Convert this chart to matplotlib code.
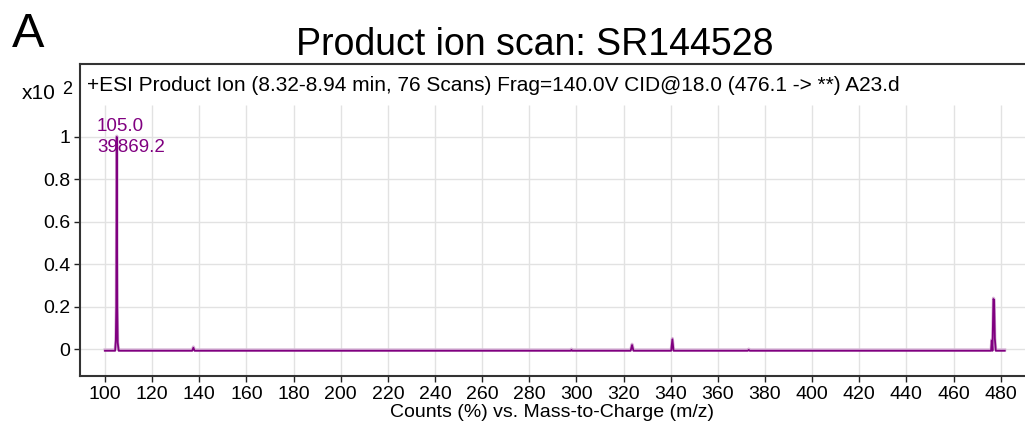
import matplotlib
matplotlib.use("Agg")
import matplotlib.pyplot as plt
import numpy as np

plt.rcParams['font.family'] = ['Liberation Sans', 'DejaVu Sans']

# spectrum points (m/z, counts in x10^2 %)
mz = [100.0, 104.3, 104.6, 104.8, 105.0, 105.2, 105.4, 105.8, 106.2,
      137.0, 137.5, 138.0, 297.6, 297.9, 298.2,
      323.0, 323.6, 324.2, 340.2, 340.7, 341.2,
      372.7, 373.1, 373.5,
      475.9, 476.2, 476.5, 476.9, 477.2, 477.5, 477.9, 481.7]
counts = [-0.008, -0.008, 0.04, 0.2, 1.0, 0.2, 0.03, -0.008, -0.008,
          -0.008, 0.006, -0.008, -0.008, -0.004, -0.008,
          -0.008, 0.019, -0.008, -0.008, 0.046, -0.008,
          -0.008, -0.004, -0.008,
          -0.008, 0.04, -0.008, 0.236, 0.23, 0.05, -0.008, -0.008]

base_mz = 105.0
base_abund = 39869.2

xticks = list(range(100, 481, 20))
yticks = [0, 0.2, 0.4, 0.6, 0.8, 1.0]
ylabels = ['0', '0.2', '0.4', '0.6', '0.8', '1']

header = "+ESI Product Ion (8.32-8.94 min, 76 Scans) Frag=140.0V CID@18.0 (476.1 -> **) A23.d"
title = "Product ion scan: SR144528"

purple = '#800080'

fig = plt.figure(figsize=(10.25, 4.26), dpi=100)
ax = fig.add_axes([80 / 1025, 50 / 426, 945 / 1025, 312 / 426])

ymin, ymax = -0.127, 1.344
grid_top = 1.151
ax.set_xlim(89.4, 490.3)
ax.set_ylim(ymin, ymax)

# grid (stops below the header band)
ax.vlines(xticks, ymin, grid_top, color='#e2e2e2', lw=1, zorder=0)
ax.hlines(yticks, 89.4, 490.3, color='#e2e2e2', lw=1, zorder=0)

# light trace under the main one
ax.plot(mz, np.array(counts) + 0.004, color='#d6b3d6', lw=2.2, zorder=1)
ax.plot(mz, counts, color=purple, lw=1.3, zorder=2)

ax.text(96.6, 1.028, f"{base_mz:.1f}", color=purple, fontsize=13.5, va='baseline')
ax.text(96.6, 0.929, f"{base_abund:.1f}", color=purple, fontsize=13.5, va='baseline')

ax.set_xticks(xticks)
ax.set_xticklabels([str(t) for t in xticks])
ax.set_yticks(yticks)
ax.set_yticklabels(ylabels)
ax.tick_params(labelsize=14, length=4, width=1, color='#222222', pad=3)

for s in ['right']:
    ax.spines[s].set_visible(False)
for s in ['left', 'bottom', 'top']:
    ax.spines[s].set_color('#333333')
    ax.spines[s].set_linewidth(1.5)

ax.set_xlabel("Counts (%) vs. Mass-to-Charge (m/z)", fontsize=14, labelpad=1)

fig.text(87 / 1025, 1 - 91 / 426, header, fontsize=15, va='baseline')
fig.text(22 / 1025, 1 - 99 / 426, "x10", fontsize=15, va='baseline')
fig.text(62 / 1025, 1 - 94 / 426, "2", fontsize=13, va='baseline')
fig.text(535 / 1025, 1 - 55 / 426, title, fontsize=27, ha='center', va='baseline')
fig.text(12 / 1025, 1 - 47 / 426, "A", fontsize=35, va='baseline')

fig.savefig("out.png", dpi=100)
